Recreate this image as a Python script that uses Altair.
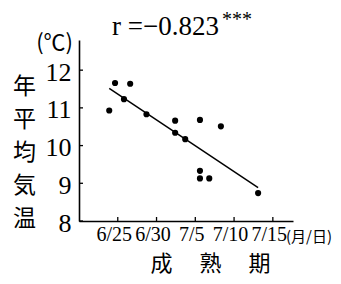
import altair as alt
import pandas as pd

# days counted from June 20 (6/25 = 5)
days = [3.9, 4.65, 6.6, 5.8, 8.7, 12.4, 12.4, 13.7, 15.6, 18.3, 15.6, 15.6, 16.8, 23.1]
temps = [10.93, 11.66, 11.64, 11.23, 10.83, 10.66, 10.34, 10.17, 10.68, 10.51, 9.33, 9.13, 9.13, 8.74]

x_tick_values = [5, 10, 15, 20, 25]
x_tick_labels = ["6/25", "6/30", "7/5", "7/10", "7/15"]
y_tick_values = [8, 9, 10, 11, 12]

title_text = "r =−0.823"
stars_text = "***"
unit_text = "(℃)"
x_unit_text = "(月/日)"
y_title = ["年", "平", "均", "気", "温"]
x_title = "成　 熟　 期"

W, H = 214, 181
SERIF = "Liberation Serif"
CJK = "Noto Sans CJK JP"

df = pd.DataFrame({"day": days, "temp": temps})

label_expr = ""
for v, l in zip(x_tick_values, x_tick_labels):
    label_expr += f"datum.value == {v} ? '{l}' : "
label_expr += "''"

xscale = alt.Scale(domain=[0, 27.6], nice=False, zero=False)
yscale = alt.Scale(domain=[8, 12.8], nice=False, zero=False)

xaxis = alt.Axis(
    values=x_tick_values, labelExpr=label_expr, ticks=False, grid=False,
    domainColor="black", domainWidth=1.6, labelFont=SERIF, labelFontSize=20,
    labelColor="black", labelPadding=3, labelOffset=-4, labelFlush=False,
    title=x_title, titleFont=CJK, titleFontSize=22, titleFontWeight="normal",
    titleColor="black", titleX=131, titleY=32, titleAlign="center",
    titleBaseline="top", titleAnchor="start")
yaxis = alt.Axis(
    values=y_tick_values, ticks=False, grid=False, domainColor="black",
    domainWidth=1.6, labelFont=SERIF, labelFontSize=26, labelColor="black",
    labelPadding=8, labelOffset=2, labelFlush=False, labelBaseline="middle",
    title=y_title, titleFont=CJK, titleFontSize=23, titleFontWeight="normal",
    titleColor="black", titleAngle=0, titleLineHeight=33, titleX=-55,
    titleY=35, titleAlign="center", titleBaseline="top", titleAnchor="start")

points = alt.Chart(df).mark_circle(size=38, color="black", opacity=1).encode(
    x=alt.X("day:Q", scale=xscale, axis=xaxis),
    y=alt.Y("temp:Q", scale=yscale, axis=yaxis),
)

fit = alt.Chart(df).transform_regression("day", "temp").mark_line(
    color="black", strokeWidth=1.5).encode(
    x=alt.X("day:Q", scale=xscale),
    y=alt.Y("temp:Q", scale=yscale),
)

xt = alt.Chart(pd.DataFrame({"day": x_tick_values})).mark_rule(
    color="black", strokeWidth=1.3).encode(
    x=alt.X("day:Q", scale=xscale),
    y=alt.value(H), y2=alt.value(H - 4),
)
yt = alt.Chart(pd.DataFrame({"temp": y_tick_values})).mark_rule(
    color="black", strokeWidth=1.3).encode(
    y=alt.Y("temp:Q", scale=yscale),
    x=alt.value(0), x2=alt.value(4),
)

def label(text, x, y, font, size, align="left", baseline="alphabetic"):
    return alt.Chart(pd.DataFrame({"t": [text]})).mark_text(
        font=font, fontSize=size, align=align, baseline=baseline, color="black"
    ).encode(text="t:N", x=alt.value(x), y=alt.value(y))

t1 = label(title_text, 33, -5, SERIF, 27)
t2 = label(stars_text, 143, -14, SERIF, 20)
t3 = label(unit_text, -6, 3, CJK, 22, align="right", baseline="middle")
t4 = label(x_unit_text, 207, H + 16, CJK, 15, align="left", baseline="middle")

chart = alt.layer(points, fit, xt, yt, t1, t2, t3, t4).properties(
    width=W, height=H, autosize="none", background="white",
    padding={"left": 71, "top": 32, "right": 40, "bottom": 55},
).configure_view(stroke=None)

chart.save("out.html", embed_options={"renderer": "svg", "actions": False})
